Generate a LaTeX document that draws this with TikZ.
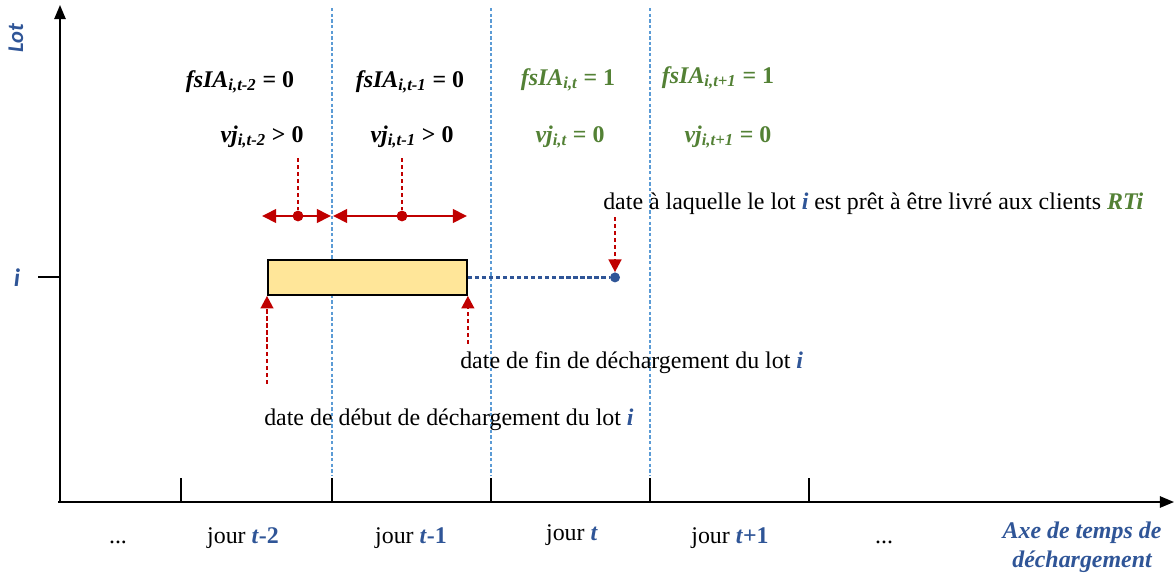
\documentclass[tikz,border=0pt]{standalone}
\usepackage{fontspec}
\setmainfont{Liberation Serif}
\newfontfamily\calfont{Carlito}
\usetikzlibrary{arrows.meta}
\definecolor{lotblue}{HTML}{2F5597}
\definecolor{sepblue}{HTML}{5B9BD5}
\definecolor{okgreen}{HTML}{538135}
\definecolor{darkred}{HTML}{C00000}
\definecolor{lotfill}{HTML}{FFE699}
\newcommand{\bitext}[1]{\textbf{\textit{#1}}}
\newcommand{\bluei}{\textcolor{lotblue}{\bitext{i}}}

\begin{document}
\begin{tikzpicture}[x=0.025cm,y=-0.025cm,
  every node/.style={font=\fontsize{17}{20}\selectfont,inner sep=0pt},
  axe/.style={line width=1.3pt,-{Triangle[length=10pt,width=8pt]}},
  jourtick/.style={line width=1.1pt},
  sepline/.style={sepblue,line width=1.1pt,dash pattern=on 2.4pt off 1.6pt},
  rdash/.style={darkred,line width=1.7pt,dash pattern=on 3pt off 2pt},
  rtip/.style={-{Triangle[length=9pt,width=9pt]}},
  span/.style={darkred,line width=2pt,{Triangle[length=10pt,width=9.5pt]}-{Triangle[length=10pt,width=9.5pt]}},
  rdot/.style={circle,fill=darkred,minimum size=0.27cm},
  green/.style={text=okgreen}]
\useasboundingbox (0,0) rectangle (1174,573);
% axes
\coordinate (O) at (60,502);
\coordinate (ytop) at (60,5);
\coordinate (xend) at (1174,502);
\draw[axe] (58,502) -- (xend);
\draw[axe] (O) -- (ytop);
\node[font=\fontsize{16}{18}\selectfont\calfont\bfseries\itshape,text=lotblue,rotate=90] (lotlab) at (16,38) {Lot};
\node[font=\fontsize{18}{20}\selectfont\calfont\bfseries\itshape,text=lotblue] (ilab) at (17,278) {i};
\draw[jourtick] (38,277) -- (O |- 0,277);
\foreach \x in {181,332,491,650,809} \draw[jourtick] (\x,478) -- (\x,502);
% separateurs des jours
\foreach \x in {332,491,650} \draw[sepline] (\x,8) -- (\x,476);
% le lot i
\node[draw,line width=1.3pt,fill=lotfill,minimum width=4.975cm,minimum height=0.875cm,anchor=north west] (lot) at (267,259) {};
\coordinate (px) at (615,0);
\node[circle,fill=lotblue,minimum size=0.25cm] (pret) at (lot.east -| px) {};
\draw[lotblue,line width=1.7pt,dash pattern=on 3pt off 2pt] (lot.east) -- (pret);
\coordinate (pretsrc) at (615,217);
\draw[rdash,rtip] (pretsrc) -- (pret.north);
\coordinate (debut) at ([yshift=-2.2cm]lot.south west);
\coordinate (fin) at ([yshift=-1.2cm]lot.south east);
\draw[rdash,rtip] (debut) -- (lot.south west);
\draw[rdash,rtip] (fin) -- (lot.south east);
% durees
\coordinate (a1) at (262,216);
\coordinate (a2) at (331,216);
\coordinate (a3) at (333,216);
\coordinate (a4) at (467,216);
\draw[span] (a1) -- (a2);
\draw[span] (a3) -- (a4);
\node[rdot] (m1) at (298,216) {};
\node[rdot] (m2) at (402,216) {};
\coordinate (v1) at (298,158);
\coordinate (v2) at (402,158);
\draw[rdash] (v1) -- (m1);
\draw[rdash] (v2) -- (m2);
% variables
\node[anchor=base] (fs1) at (240,87) {\bitext{fsIA\textsubscript{i,t-2}} \textbf{= 0}};
\node[anchor=base] (fs2) at (410,87) {\bitext{fsIA\textsubscript{i,t-1}} \textbf{= 0}};
\node[anchor=base,green] (fs3) at (568,85) {\bitext{fsIA\textsubscript{i,t}} \textbf{= 1}};
\node[anchor=base,green] (fs4) at (718,83) {\bitext{fsIA\textsubscript{i,t+1}} \textbf{= 1}};
\node[anchor=base] (vj1) at (262,142) {\bitext{vj\textsubscript{i,t-2}} \textbf{> 0}};
\node[anchor=base] (vj2) at (412,142) {\bitext{vj\textsubscript{i,t-1}} \textbf{> 0}};
\node[anchor=base,green] (vj3) at (570,142) {\bitext{vj\textsubscript{i,t}} \textbf{= 0}};
\node[anchor=base,green] (vj4) at (728,142) {\bitext{vj\textsubscript{i,t+1}} \textbf{= 0}};
% dates
\node[anchor=base west] (txtpret) at (603,209) {date à laquelle le lot \bluei{} est prêt à être livré aux clients \textcolor{okgreen}{\bitext{RTi}}};
\node[anchor=base west] (txtfin) at (460,368) {date de fin de déchargement du lot \bluei};
\node[anchor=base west] (txtdebut) at (264,425) {date de début de déchargement du lot \bluei};
% jours
\node[anchor=base] (j0) at (118,543) {...};
\node[anchor=base] (j1) at (243,543) {jour \textcolor{lotblue}{\bitext{t}\textbf{-2}}};
\node[anchor=base] (j2) at (411,543) {jour \textcolor{lotblue}{\bitext{t}\textbf{-1}}};
\node[anchor=base] (j3) at (572,540) {jour \textcolor{lotblue}{\bitext{t}}};
\node[anchor=base] (j4) at (730,543) {jour \textcolor{lotblue}{\bitext{t}\textbf{+1}}};
\node[anchor=base] (j5) at (884,543) {...};
\node[align=center,text=lotblue,font=\fontsize{17}{20}\selectfont\bfseries\itshape,anchor=base] (axelab) at (1082,567) {Axe de temps de\\déchargement};
\end{tikzpicture}
\end{document}
